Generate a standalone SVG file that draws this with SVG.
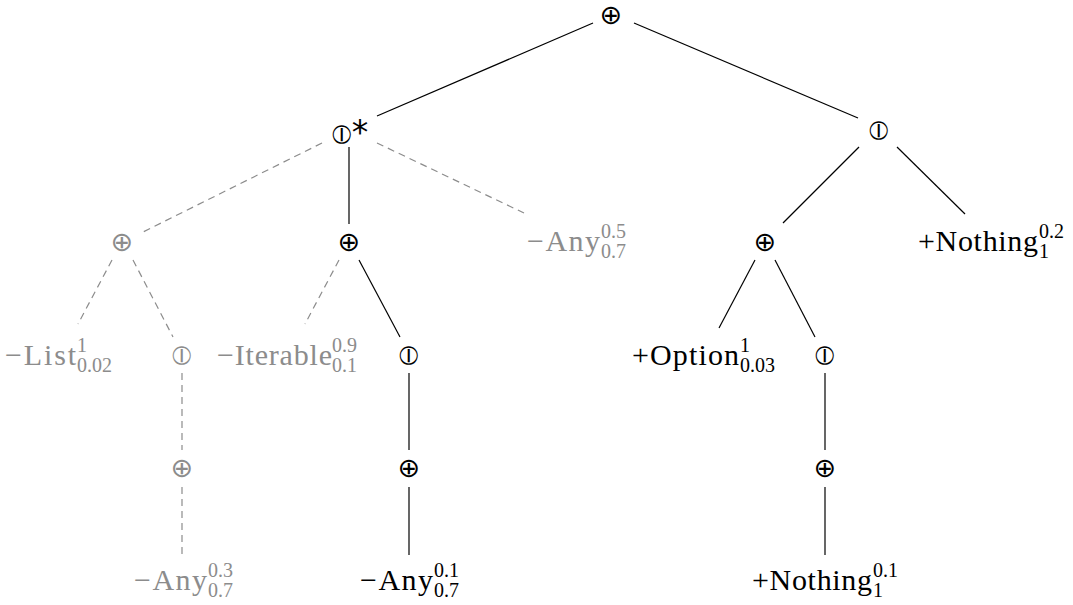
<svg xmlns="http://www.w3.org/2000/svg" width="1073" height="605" viewBox="0 0 1073 605">
<style>
.bg{fill:#fff}
.e{stroke:#000;stroke-width:1.2;fill:none}
.d{stroke:#8c8c8c;stroke-width:1.2;fill:none;stroke-dasharray:7 5}
.sym{font-family:"DejaVu Sans","Noto Sans",sans-serif;font-size:27px;text-anchor:middle;fill:#000}
.m{font-family:"Liberation Serif","DejaVu Serif",serif;font-size:30px;fill:#000}
.s{font-family:"Liberation Serif","DejaVu Serif",serif;font-size:20px;fill:#000}
.g{fill:#8c8c8c}
</style>
<rect class="bg" x="0" y="0" width="1073" height="605"/>
<g id="edges">
<line class="e" x1="593" y1="23" x2="377" y2="116"/>
<line class="e" x1="634" y1="23" x2="858" y2="118"/>
<line class="d" x1="322" y1="143" x2="143" y2="232"/>
<line class="e" x1="349" y1="147" x2="349" y2="224"/>
<line class="d" x1="377" y1="143" x2="524" y2="213"/>
<line class="e" x1="859" y1="147" x2="783" y2="223"/>
<line class="e" x1="897" y1="147" x2="965" y2="214"/>
<line class="d" x1="112" y1="260" x2="78" y2="324"/>
<line class="d" x1="133" y1="260" x2="173" y2="337"/>
<line class="d" x1="339" y1="260" x2="305" y2="324"/>
<line class="e" x1="359" y1="260" x2="400" y2="337"/>
<line class="e" x1="755" y1="260" x2="719" y2="328"/>
<line class="e" x1="775" y1="260" x2="815" y2="337"/>
<line class="d" x1="182" y1="373" x2="182" y2="450"/>
<line class="d" x1="182" y1="487" x2="182" y2="555"/>
<line class="e" x1="409" y1="373" x2="409" y2="450"/>
<line class="e" x1="409" y1="487" x2="409" y2="555"/>
<line class="e" x1="825" y1="373" x2="825" y2="450"/>
<line class="e" x1="825" y1="487" x2="825" y2="555"/>
</g>
<g id="n0"><text class="sym" x="611" y="24">⊕</text></g>
<g id="n1"><text class="sym" x="350" y="143">⦶<tspan font-size="33" dy="1">*</tspan></text></g>
<g id="n2"><text class="sym" x="879" y="139">⦶</text></g>
<g id="n3"><text class="sym g" x="122" y="251">⊕</text></g>
<g id="n4"><text class="sym" x="349" y="251">⊕</text></g>
<g id="n5"><text class="m g" x="527" y="251" textLength="73" lengthAdjust="spacing">−Any</text><text class="s g" x="601" y="238">0.5</text><text class="s g" x="601" y="258">0.7</text></g>
<g id="n6"><text class="sym" x="765" y="251">⊕</text></g>
<g id="n7"><text class="m" x="918" y="251" textLength="120" lengthAdjust="spacing">+Nothing</text><text class="s" x="1039" y="238">0.2</text><text class="s" x="1039" y="258">1</text></g>
<g id="n8"><text class="m g" x="5" y="365" textLength="71" lengthAdjust="spacing">−List</text><text class="s g" x="77" y="352">1</text><text class="s g" x="77" y="372">0.02</text></g>
<g id="n9"><text class="sym g" x="182" y="364">⦶</text></g>
<g id="n10"><text class="m g" x="217" y="365" textLength="115" lengthAdjust="spacing">−Iterable</text><text class="s g" x="332" y="352">0.9</text><text class="s g" x="332" y="372">0.1</text></g>
<g id="n11"><text class="sym" x="409" y="364">⦶</text></g>
<g id="n12"><text class="m" x="632" y="365" textLength="107" lengthAdjust="spacing">+Option</text><text class="s" x="740" y="352">1</text><text class="s" x="740" y="372">0.03</text></g>
<g id="n13"><text class="sym" x="825" y="364">⦶</text></g>
<g id="n14"><text class="sym g" x="182" y="477">⊕</text></g>
<g id="n15"><text class="sym" x="409" y="477">⊕</text></g>
<g id="n16"><text class="sym" x="825" y="477">⊕</text></g>
<g id="n17"><text class="m g" x="134" y="590" textLength="73" lengthAdjust="spacing">−Any</text><text class="s g" x="208" y="577">0.3</text><text class="s g" x="208" y="597">0.7</text></g>
<g id="n18"><text class="m" x="360" y="590" textLength="73" lengthAdjust="spacing">−Any</text><text class="s" x="434" y="577">0.1</text><text class="s" x="434" y="597">0.7</text></g>
<g id="n19"><text class="m" x="752" y="590" textLength="120" lengthAdjust="spacing">+Nothing</text><text class="s" x="873" y="577">0.1</text><text class="s" x="873" y="597">1</text></g>
</svg>
